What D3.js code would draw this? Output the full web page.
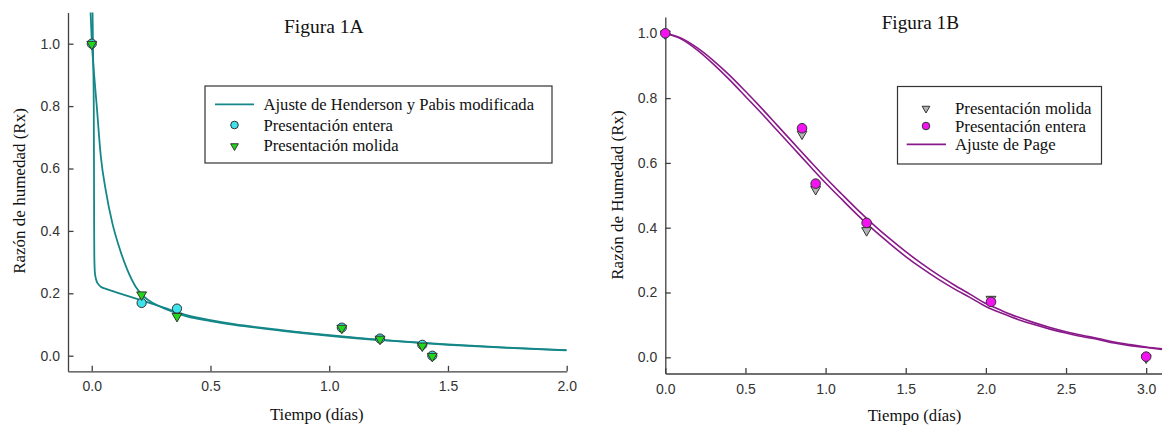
<!DOCTYPE html>
<html><head><meta charset="utf-8">
<script src="https://cdn.jsdelivr.net/npm/d3@7"></script>
<style>body{margin:0;background:#fff}svg{display:block}</style>
</head><body><svg id="c" width="1162" height="426"></svg>
<script>
// ---------- Figura 1A data ----------
const aXTicks = [0, 0.5, 1.0, 1.5, 2.0];
const aXTickLabels = ["0.0", "0.5", "1.0", "1.5", "2.0"];
const aYTicks = [0, 0.2, 0.4, 0.6, 0.8, 1.0];
const aYTickLabels = ["0.0", "0.2", "0.4", "0.6", "0.8", "1.0"];
const aEnteraT = [0, 0.21, 0.359, 1.053, 1.214, 1.392, 1.434];
const aEnteraV = [1.0, 0.169, 0.151, 0.09, 0.055, 0.035, 0.0];
const aMolidaT = [0, 0.21, 0.359, 1.053, 1.214, 1.392, 1.434];
const aMolidaV = [1.0, 0.197, 0.128, 0.09, 0.055, 0.033, 0.0];
const aFit1T = [0.003, 0.006, 0.0085, 0.0095, 0.0100, 0.0108, 0.013, 0.018, 0.026, 0.038, 0.06, 0.1, 0.15, 0.2, 0.3, 0.4, 0.5, 0.6, 0.8, 1.0, 1.25, 1.5, 1.75, 2.0];
const aFit1V = [1.12, 0.95, 0.80, 0.60, 0.42, 0.32, 0.268, 0.245, 0.231, 0.221, 0.214, 0.204, 0.192, 0.180, 0.155, 0.130, 0.114, 0.101, 0.082, 0.066, 0.049, 0.036, 0.026, 0.018];
const aFit2T = [-0.006, 0.0, 0.01, 0.02, 0.038, 0.059, 0.087, 0.115, 0.15, 0.185, 0.22, 0.26, 0.31, 0.4, 0.5, 0.6, 0.8, 1.0, 1.25, 1.5, 1.75, 2.0];
const aFit2V = [1.12, 1.01, 0.90, 0.81, 0.64, 0.53, 0.424, 0.349, 0.275, 0.221, 0.189, 0.168, 0.150, 0.126, 0.111, 0.099, 0.080, 0.064, 0.048, 0.035, 0.025, 0.017];

// ---------- Figura 1B data ----------
const bXTicks = [0, 0.5, 1.0, 1.5, 2.0, 2.5, 3.0];
const bXTickLabels = ["0.0", "0.5", "1.0", "1.5", "2.0", "2.5", "3.0"];
const bYTicks = [0, 0.2, 0.4, 0.6, 0.8, 1.0];
const bYTickLabels = ["0.0", "0.2", "0.4", "0.6", "0.8", "1.0"];
const bEnteraT = [0, 0.853, 0.938, 1.256, 2.032, 3.0];
const bEnteraV = [1.0, 0.707, 0.536, 0.415, 0.171, 0.002];
const bMolidaT = [0, 0.853, 0.938, 1.256, 2.032, 3.0];
const bMolidaV = [1.0, 0.691, 0.52, 0.393, 0.181, 0.0];
const bFitT = [0,0.1,0.2,0.3,0.4,0.5,0.6,0.7,0.8,0.9,1.0,1.1,1.2,1.3,1.4,1.5,1.6,1.7,1.8,1.9,2.0,2.1,2.2,2.3,2.4,2.5,2.6,2.7,2.8,2.9,3.0,3.1];
const bFitUV = [1.000,0.985,0.955,0.916,0.871,0.821,0.769,0.715,0.661,0.607,0.554,0.504,0.455,0.409,0.366,0.326,0.289,0.255,0.224,0.195,0.166,0.144,0.124,0.107,0.092,0.079,0.068,0.058,0.047,0.039,0.032,0.026];
const bFitLV = [1.000,0.982,0.948,0.905,0.857,0.805,0.753,0.699,0.645,0.591,0.538,0.488,0.439,0.393,0.351,0.311,0.275,0.242,0.212,0.185,0.157,0.136,0.117,0.101,0.087,0.075,0.064,0.055,0.044,0.036,0.030,0.024];

const svg = d3.select("#c");
const SANS = "'Liberation Sans', Arial, sans-serif";
const SERIF = "'Liberation Serif', 'Times New Roman', serif";
const AXC = "#404040";

function range(a, b, s) { const out = []; for (let v = a; v <= b + 1e-9; v += s) out.push(+v.toFixed(4)); return out; }

function drawAxes(g, x, y, xT, xL, yT, yL, xMinor, yMinor, xPad) {
  const gx = g.append("g").attr("transform", `translate(0,${y.range()[0]})`);
  gx.call(d3.axisBottom(x).tickValues(xMinor).tickSize(-3).tickSizeOuter(0).tickFormat(""));
  gx.call(d3.axisBottom(x).tickValues(xT).tickSize(-5.5).tickSizeOuter(0).tickPadding(xPad).tickFormat((d, i) => xL[i]));
  const gy = g.append("g").attr("transform", `translate(${x.range()[0]},0)`);
  gy.call(d3.axisLeft(y).tickValues(yMinor).tickSize(-3).tickSizeOuter(0).tickFormat(""));
  gy.call(d3.axisLeft(y).tickValues(yT).tickSize(-5.5).tickSizeOuter(0).tickPadding(8).tickFormat((d, i) => yL[i]));
  g.selectAll(".domain, .tick line").attr("stroke", AXC).attr("stroke-width", 1.3);
  g.selectAll(".tick text").attr("fill", "#333").style("font-family", SANS).style("font-size", "14px");
}

function tri(size) { return d3.symbol(d3.symbolTriangle, size)(); }

// ================= Panel A =================
{
  const x = d3.scaleLinear().domain([-0.1, 2.0]).range([68, 566.7]);
  const y = d3.scaleLinear().domain([-0.05, 1.1]).range([371.3, 12.5]);
  const g = svg.append("g");
  g.append("clipPath").attr("id", "clipA").append("rect")
    .attr("x", 68).attr("y", 12.5).attr("width", 566.7 - 68).attr("height", 371.3 - 12.5);
  drawAxes(g, x, y, aXTicks, aXTickLabels, aYTicks, aYTickLabels,
    range(0, 2.0, 0.1).filter(v => Math.abs(v * 2 - Math.round(v * 2)) > 1e-6),
    range(-0.04, 1.08, 0.04).filter(v => Math.abs(v * 5 - Math.round(v * 5)) > 1e-6), 10);

  const line = d3.line().x(d => x(d[0])).y(d => y(d[1])).curve(d3.curveMonotoneX);
  const lc = "#158789";
  const lg = g.append("g").attr("clip-path", "url(#clipA)");
  lg.append("path").attr("d", line(d3.zip(aFit1T, aFit1V))).attr("fill", "none").attr("stroke", lc).attr("stroke-width", 1.8);
  lg.append("path").attr("d", line(d3.zip(aFit2T, aFit2V))).attr("fill", "none").attr("stroke", lc).attr("stroke-width", 1.8);

  g.selectAll("circle.ent").data(d3.zip(aEnteraT, aEnteraV)).join("circle").attr("class", "ent")
    .attr("cx", d => x(d[0])).attr("cy", d => y(d[1])).attr("r", 4.6)
    .attr("fill", "#3de4ee").attr("stroke", "#333").attr("stroke-width", 1);
  g.selectAll("path.mol").data(d3.zip(aMolidaT, aMolidaV)).join("path").attr("class", "mol")
    .attr("d", tri(42)).attr("transform", d => `translate(${x(d[0])},${y(d[1]) + 0.5}) rotate(180)`)
    .attr("fill", "#22d61a").attr("stroke", "#333").attr("stroke-width", 1);

  // legend
  const L = g.append("g");
  L.append("rect").attr("x", 205).attr("y", 86).attr("width", 347).attr("height", 77)
    .attr("fill", "#fff").attr("stroke", "#333").attr("stroke-width", 1.2);
  L.append("line").attr("x1", 215).attr("x2", 254).attr("y1", 104.3).attr("y2", 104.3).attr("stroke", lc).attr("stroke-width", 1.8);
  L.append("circle").attr("cx", 234.5).attr("cy", 125).attr("r", 3.8).attr("fill", "#3de4ee").attr("stroke", "#333").attr("stroke-width", 1);
  L.append("path").attr("d", tri(26)).attr("transform", "translate(234.5,146) rotate(180)").attr("fill", "#22d61a").attr("stroke", "#333").attr("stroke-width", 1);
  const legA = ["Ajuste de Henderson y Pabis modificada", "Presentación entera", "Presentación molida"];
  L.selectAll("text").data(legA).join("text").attr("x", 263.5).attr("y", (d, i) => 109.8 + i * 20.8)
    .text(d => d).style("font-family", SERIF).style("font-size", "16.6px").attr("fill", "#111");

  g.append("text").attr("x", 284).attr("y", 33).text("Figura 1A").style("font-family", SERIF).style("font-size", "19.5px").attr("fill", "#111");
  g.append("text").attr("x", 316.7).attr("y", 420).attr("text-anchor", "middle").text("Tiempo (días)").style("font-family", SERIF).style("font-size", "16.7px").attr("fill", "#111");
  g.append("text").attr("transform", "translate(25,191) rotate(-90)").attr("text-anchor", "middle").text("Razón de humedad (Rx)").style("font-family", SERIF).style("font-size", "17px").attr("fill", "#111");
}

// ================= Panel B =================
{
  const x = d3.scaleLinear().domain([0, 3.1]).range([665.3, 1162.2]);
  const y = d3.scaleLinear().domain([-0.05, 1.05]).range([373.5, 17.1]);
  const g = svg.append("g");
  g.append("clipPath").attr("id", "clipB").append("rect")
    .attr("x", 665.3).attr("y", 17.1).attr("width", 1162.2 - 665.3).attr("height", 373.5 - 17.1);
  drawAxes(g, x, y, bXTicks, bXTickLabels, bYTicks, bYTickLabels,
    range(0.1, 3.0, 0.1).filter(v => Math.abs(v * 2 - Math.round(v * 2)) > 1e-6),
    range(-0.04, 1.04, 0.04).filter(v => Math.abs(v * 5 - Math.round(v * 5)) > 1e-6), 10.5);

  const line = d3.line().x(d => x(d[0])).y(d => y(d[1])).curve(d3.curveMonotoneX);
  const lc = "#8a1a8a";
  const lg = g.append("g").attr("clip-path", "url(#clipB)");
  lg.append("path").attr("d", line(d3.zip(bFitT, bFitUV))).attr("fill", "none").attr("stroke", lc).attr("stroke-width", 1.6);
  lg.append("path").attr("d", line(d3.zip(bFitT, bFitLV))).attr("fill", "none").attr("stroke", lc).attr("stroke-width", 1.6);

  g.selectAll("path.mol").data(d3.zip(bMolidaT, bMolidaV)).join("path").attr("class", "mol")
    .attr("d", tri(42)).attr("transform", d => `translate(${x(d[0])},${y(d[1]) + 0.5}) rotate(180)`)
    .attr("fill", "#b4b4b4").attr("stroke", "#333").attr("stroke-width", 1);
  g.selectAll("circle.ent").data(d3.zip(bEnteraT, bEnteraV)).join("circle").attr("class", "ent")
    .attr("cx", d => x(d[0])).attr("cy", d => y(d[1])).attr("r", 4.8)
    .attr("fill", "#f312f0").attr("stroke", "#333").attr("stroke-width", 1);

  const L = g.append("g");
  L.append("rect").attr("x", 897.5).attr("y", 86.5).attr("width", 204).attr("height", 77.5)
    .attr("fill", "#fff").attr("stroke", "#333").attr("stroke-width", 1.2);
  L.append("path").attr("d", tri(26)).attr("transform", "translate(926,108.5) rotate(180)").attr("fill", "#b4b4b4").attr("stroke", "#333").attr("stroke-width", 1);
  L.append("circle").attr("cx", 926).attr("cy", 126).attr("r", 3.8).attr("fill", "#f312f0").attr("stroke", "#333").attr("stroke-width", 1);
  L.append("line").attr("x1", 906.7).attr("x2", 946).attr("y1", 144.3).attr("y2", 144.3).attr("stroke", lc).attr("stroke-width", 1.8);
  const legB = ["Presentación molida", "Presentación entera", "Ajuste de Page"];
  L.selectAll("text").data(legB).join("text").attr("x", 955).attr("y", (d, i) => 113.8 + i * 18)
    .text(d => d).style("font-family", SERIF).style("font-size", "16.8px").attr("fill", "#111");

  g.append("text").attr("x", 881.7).attr("y", 28.5).text("Figura 1B").style("font-family", SERIF).style("font-size", "19.2px").attr("fill", "#111");
  g.append("text").attr("x", 914.5).attr("y", 421).attr("text-anchor", "middle").text("Tiempo (días)").style("font-family", SERIF).style("font-size", "16.7px").attr("fill", "#111");
  g.append("text").attr("transform", "translate(623,195) rotate(-90)").attr("text-anchor", "middle").text("Razón de Humedad (Rx)").style("font-family", SERIF).style("font-size", "17px").attr("fill", "#111");
}
</script>
</body></html>
